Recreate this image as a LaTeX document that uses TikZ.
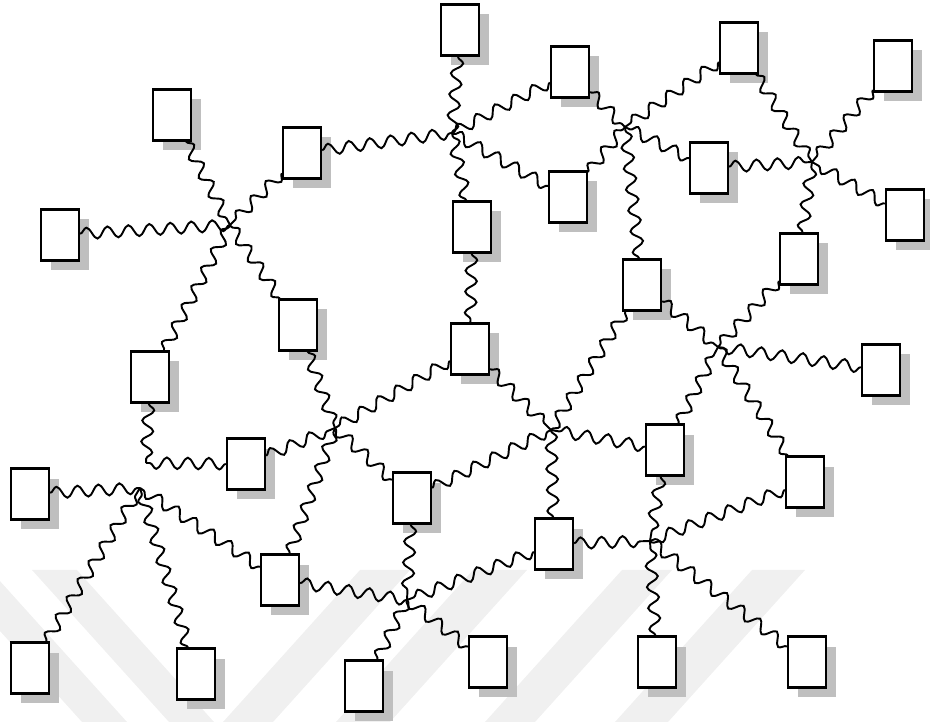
\documentclass[tikz,border=0pt]{standalone}
\usetikzlibrary{shapes,shadows,decorations.pathmorphing}

\begin{document}
\begin{tikzpicture}[x=0.02cm, y=-0.02cm,
        station/.style={rectangle, draw, fill=white, line width=1.3pt, inner sep=0pt,
            minimum width=0.76cm, minimum height=1.02cm,
            drop shadow={shadow xshift=0.2cm, shadow yshift=-0.2cm, opacity=1, fill=black!25}},
        wire/.style={line width=1.1pt, decorate,
            decoration={snake, amplitude=1.15mm, segment length=4.2mm}},
        band/.style={fill=black!6}]

                \useasboundingbox (0,0) rectangle (930,722);

                \foreach \l in {-55,32}{
                    \fill[band] (\l,570) -- (\l+45,570) -- (\l+182,722) -- (\l+137,722) -- cycle;
                }
                \foreach \l/ \r in {360/410,473/527,622/672,752/805}{
                    \fill[band] (\l,570) -- (\r,570) -- (\r-137,722) -- (\l-137,722) -- cycle;
                }

                \foreach \n/ \x/ \y in {b1/460/30, b2/570/72, b3/739/48, b4/893/66, b5/172/115,
                        b6/302/153, b7/568/197, b8/709/168, b9/905/215, b10/60/235,
                        b11/472/227, b12/799/259, b13/642/285, b14/298/325, b15/470/349,
                        b16/881/370, b17/150/377, b18/665/450, b19/246/464, b20/805/482,
                        b21/30/494, b22/412/498, b23/554/544, b24/280/580, b25/30/668,
                        b26/196/674, b27/364/686, b28/488/662, b29/657/662, b30/807/662}{
                    \node[station] (\n) at (\x,\y) {};
                }

                \foreach \n/ \x/ \y in {h1/230/225, h2/452/133, h3/625/127, h4/812/162,
                        h5/718/347, h6/551/430, h7/335/428, h8/140/488, h9/146/463,
                        h10/407/600, h11/650/541}{
                    \coordinate (\n) at (\x,\y);
                }

                \foreach \h/ \ends in {h1/{b5,b10,b6,b14,b17}, h2/{b1,b6,b11,b2,b7},
                        h3/{b2,b7,b3,b8,b13}, h4/{b3,b4,b8,b9,b12},
                        h5/{b12,b13,b16,b20,b18}, h6/{b15,b13,b18,b23,b22},
                        h7/{b14,b15,b22,b19,b24}, h8/{b21,b25,b26,b24}, h9/{b17,b19},
                        h10/{b24,b22,b27,b28,b23}, h11/{b23,b18,b20,b29,b30}}{
                    \foreach \b in \ends{
                        \draw[wire] (\b) -- (\h);
                    }
                }
                \draw[wire] (b11) -- (b15);

        \end{tikzpicture}
\end{document}
